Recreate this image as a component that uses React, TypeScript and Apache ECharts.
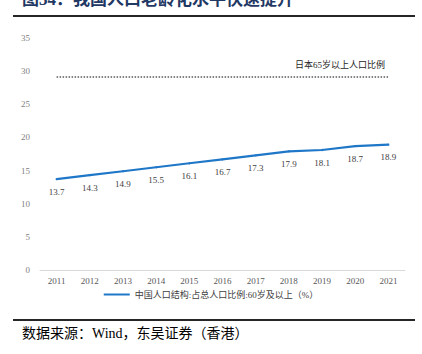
import React, { useEffect, useRef } from "react";
import * as echarts from "echarts";

const years = ["2011", "2012", "2013", "2014", "2015", "2016", "2017", "2018", "2019", "2020", "2021"];
const china60Plus = [13.7, 14.3, 14.9, 15.5, 16.1, 16.7, 17.3, 17.9, 18.1, 18.7, 18.9];
const japan65Plus = [29.1, 29.1, 29.1, 29.1, 29.1, 29.1, 29.1, 29.1, 29.1, 29.1, 29.1];
const chinaName = "中国人口结构:占总人口比例:60岁及以上（%）";
const japanName = "日本65岁以上人口比例";
const titleText = "图34：我国人口老龄化水平快速提升";
const sourceText = "数据来源：Wind，东吴证券（香港）";

const SERIF = '"Liberation Serif", "Noto Sans CJK SC", serif';
const BLUE = "#1f77c8";

export default function App() {
  const ref = useRef<HTMLDivElement>(null);
  useEffect(() => {
    const chart = echarts.init(ref.current!, null, { renderer: "svg" });
    chart.setOption({
      animation: false,
      backgroundColor: "#ffffff",
      grid: { left: 40, right: 17, top: 38, bottom: 84 },
      xAxis: {
        type: "category",
        data: years,
        boundaryGap: true,
        axisLine: { lineStyle: { color: "#d9d9d9" } },
        axisTick: { show: false },
        axisLabel: { color: "#595959", fontSize: 9, fontFamily: SERIF, margin: 6 },
      },
      yAxis: {
        type: "value",
        min: 0,
        max: 35,
        interval: 5,
        splitLine: { show: false },
        axisLine: { show: false },
        axisTick: { show: false },
        axisLabel: { color: "#7f7f7f", fontSize: 9, fontFamily: SERIF, margin: 10 },
      },
      legend: {
        data: [{ name: chinaName, icon: "rect", itemStyle: { color: BLUE, opacity: 1 } }],
        bottom: 50,
        left: "center",
        itemWidth: 26,
        itemHeight: 2,
        textStyle: { fontSize: 9, color: "#404040", fontFamily: SERIF },
      },
      series: [
        {
          name: chinaName,
          type: "line",
          data: china60Plus,
          symbol: "circle",
          symbolSize: 2,
          showSymbol: true,
          lineStyle: { color: BLUE, width: 2.2 },
          itemStyle: { color: BLUE },
          label: {
            show: true,
            position: "bottom",
            distance: 7,
            color: "#404040",
            fontSize: 9,
            fontFamily: SERIF,
          },
          labelLayout: { hideOverlap: false },
        },
        {
          name: japanName,
          type: "line",
          data: japan65Plus,
          symbol: "none",
          lineStyle: { color: "#595959", width: 1.5, type: "dotted" },
          itemStyle: { color: "#595959" },
          silent: true,
        },
      ],
      graphic: [
        {
          type: "text",
          left: 22,
          top: -9,
          style: {
            text: titleText,
            fontSize: 17,
            fontWeight: "bold",
            fill: "#1f3864",
            fontFamily: SERIF,
          },
        },
        {
          type: "rect",
          shape: { x: 13, y: 15, width: 402, height: 2 },
          style: { fill: "#262626" },
        },
        {
          type: "text",
          right: 37,
          top: 60,
          style: {
            text: japanName,
            fontSize: 9,
            fill: "#262626",
            fontFamily: SERIF,
          },
        },
        {
          type: "rect",
          shape: { x: 13, y: 319, width: 402, height: 2 },
          style: { fill: "#262626" },
        },
        {
          type: "text",
          left: 22,
          top: 326,
          style: {
            text: sourceText,
            fontSize: 14,
            fill: "#000000",
            fontFamily: SERIF,
          },
        },
      ],
    });
    return () => chart.dispose();
  }, []);
  return (
    <div
      ref={ref}
      style={{ position: "fixed", left: 0, top: 0, width: 422, height: 354 }}
    />
  );
}
